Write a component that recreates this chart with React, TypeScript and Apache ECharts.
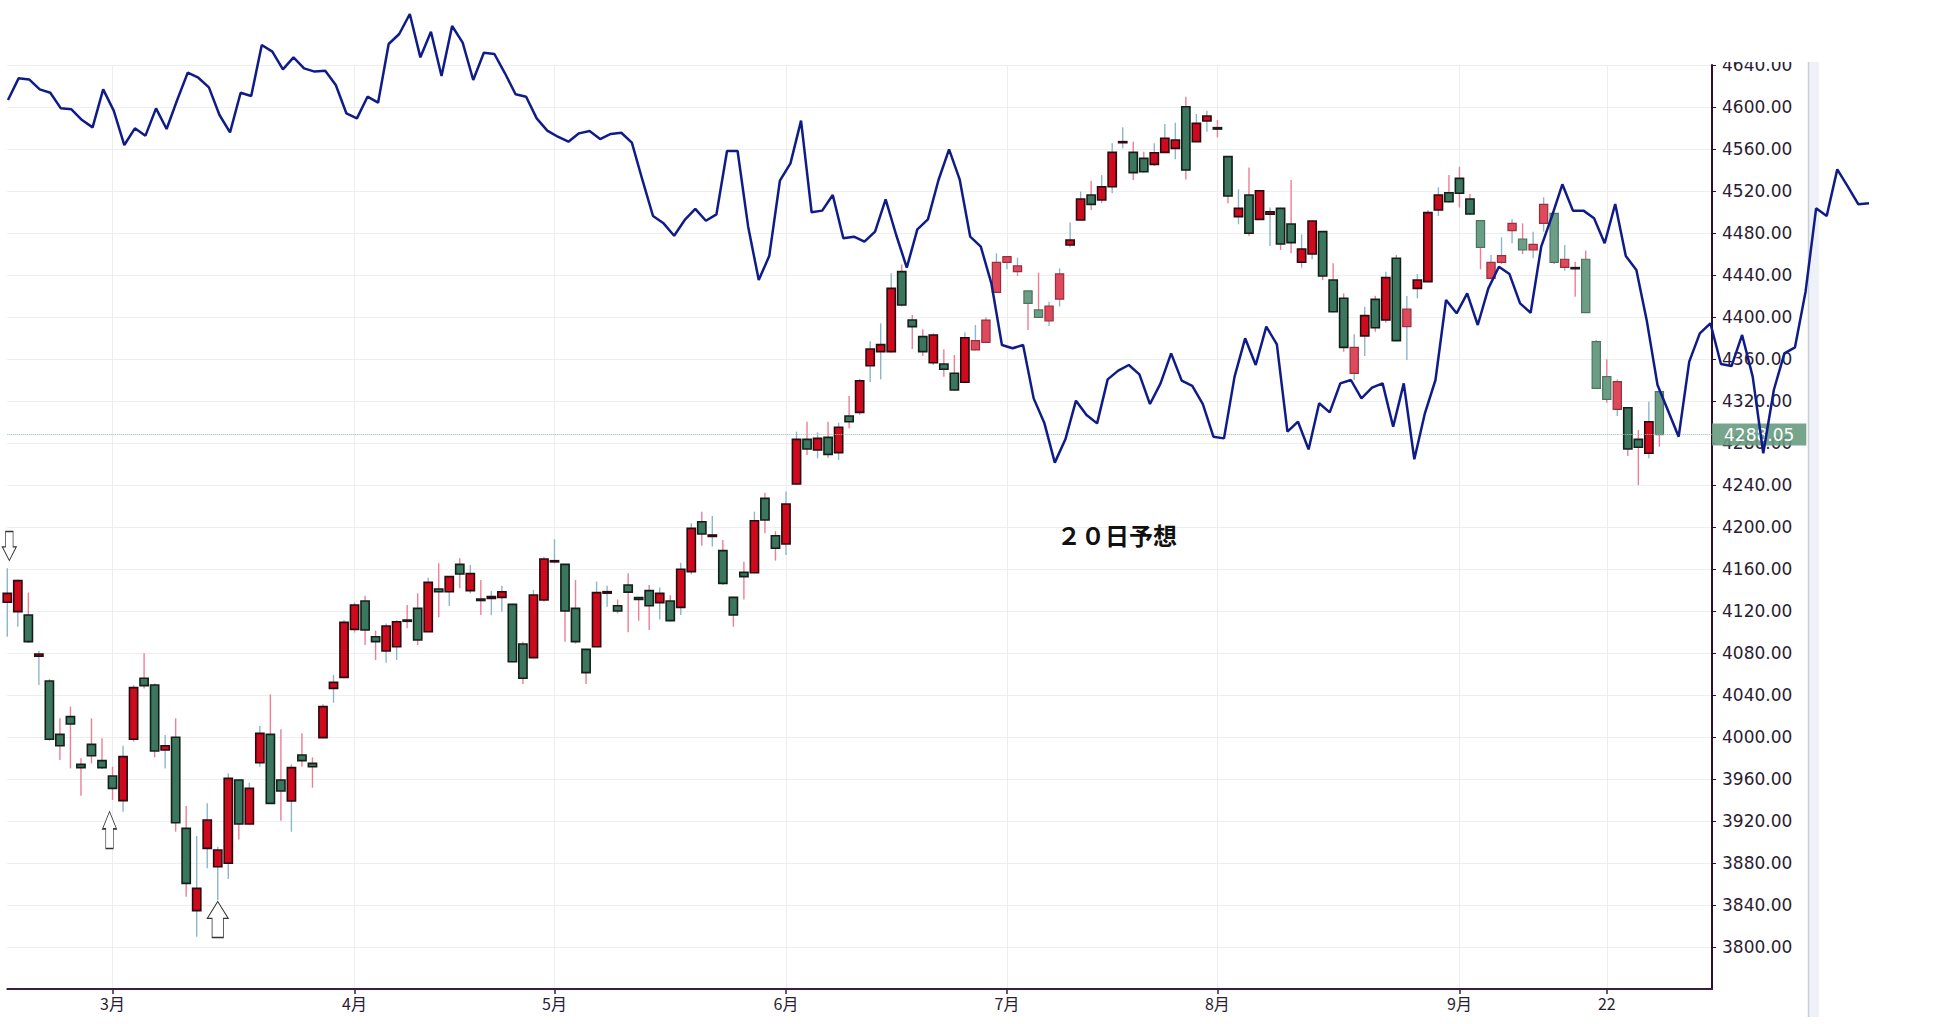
import React, { useEffect, useRef } from "react";
import * as echarts from "echarts";

// ---- categories (trading days, 2023) ----
const dates = [
  "02-14","02-15","02-16","02-17","02-21","02-22","02-23","02-24","02-27","02-28",
  "03-01","03-02","03-03","03-06","03-07","03-08","03-09","03-10","03-13","03-14","03-15","03-16","03-17","03-20","03-21","03-22","03-23","03-24","03-27","03-28","03-29","03-30","03-31",
  "04-03","04-04","04-05","04-06","04-10","04-11","04-12","04-13","04-14","04-17","04-18","04-19","04-20","04-21","04-24","04-25","04-26","04-27","04-28",
  "05-01","05-02","05-03","05-04","05-05","05-08","05-09","05-10","05-11","05-12","05-15","05-16","05-17","05-18","05-19","05-22","05-23","05-24","05-25","05-26","05-30","05-31",
  "06-01","06-02","06-05","06-06","06-07","06-08","06-09","06-12","06-13","06-14","06-15","06-16","06-20","06-21","06-22","06-23","06-26","06-27","06-28","06-29","06-30",
  "07-03","07-05","07-06","07-07","07-10","07-11","07-12","07-13","07-14","07-17","07-18","07-19","07-20","07-21","07-24","07-25","07-26","07-27","07-28","07-31",
  "08-01","08-02","08-03","08-04","08-07","08-08","08-09","08-10","08-11","08-14","08-15","08-16","08-17","08-18","08-21","08-22","08-23","08-24","08-25","08-28","08-29","08-30","08-31",
  "09-01","09-05","09-06","09-07","09-08","09-11","09-12","09-13","09-14","09-15","09-18","09-19","09-20","09-21","09-22","09-25","09-26","09-27","09-28","09-29",
];
const emptySlots = ["10-02", "10-03", "10-04", "10-05", "10-06"];
const forecastDays = [
  "10-02","10-03","10-04","10-05","10-06","10-09","10-10","10-11","10-12","10-13",
  "10-16","10-17","10-18","10-19","10-20","10-23","10-24","10-25","10-26",
];

// ---- OHLC ----
const opens = [
  4128.3,4119.4,4116.2,4077.0,4053.3,4002.5,4019.4,3973.9,3993.0,3977.5,
  3962.8,3939.4,3997.8,4055.9,4049.5,3987.6,3999.7,3913.0,3834.6,3893.9,3876.5,3879.7,3959.0,3917.1,3975.5,4002.5,3959.0,3939.0,3982.9,3974.9,3999.4,4046.3,4056.8,
  4102.5,4129.5,4095.5,4081.9,4086.0,4111.4,4122.5,4100.3,4141.0,4138.4,4164.4,4139.4,4131.4,4132.0,4133.0,4126.3,4088.6,4075.6,4130.5,
  4166.8,4164.4,4122.5,4083.5,4086.0,4137.0,4125.0,4144.8,4132.7,4139.4,4128.0,4129.5,4123.5,4157.5,4205.0,4191.0,4177.5,4133.0,4156.8,4156.5,4227.3,4191.7,
  4183.8,4241.0,4283.5,4273.3,4285.4,4270.8,4305.7,4309.2,4353.6,4367.0,4367.0,4443.2,4397.1,4381.3,4356.5,4355.2,4346.4,4337.8,4368.6,4375.9,4423.5,
  4452.1,4443.2,4424.8,4406.7,4396.2,4417.1,4468.6,4492.4,4516.2,4511.4,4524.1,4566.0,4556.8,4551.1,4545.4,4556.8,4560.6,4600.3,4567.0,4586.7,
  4580.3,4552.7,4495.6,4516.2,4493.0,4498.0,4503.5,4488.6,4452.1,4460.0,4481.3,4435.2,4417.8,4346.4,4382.0,4416.8,4397.1,4455.9,4390.8,4427.3,4433.7,4501.9,4518.4,
  4532.0,4512.4,4491.7,4436.8,4452.0,4482.2,4474.3,4463.8,4489.2,4498.7,4447.3,4447.0,4455.0,4376.5,4343.2,4312.0,4313.6,4283.5,4270.2,4328.9,
];
const highs = [
  4160.6,4150.0,4137.5,4082.0,4055.0,4017.8,4028.9,3979.7,4017.8,3998.7,
  3971.7,3991.7,4049.5,4079.7,4051.0,4001.9,4017.8,3934.3,3905.7,3936.8,3895.5,3965.4,3959.5,3956.5,4010.5,4040.6,4007.3,3974.0,4003.5,3980.6,4031.1,4059.0,4111.4,
  4128.2,4134.6,4101.3,4108.2,4111.4,4125.7,4136.8,4151.7,4165.4,4153.0,4170.2,4163.8,4149.5,4139.0,4144.1,4126.8,4090.8,4140.0,4171.7,
  4188.3,4164.8,4149.5,4083.8,4148.0,4144.0,4131.0,4155.9,4133.0,4144.8,4142.5,4135.0,4166.0,4203.5,4214.6,4210.5,4187.6,4133.5,4167.0,4214.6,4232.7,4196.0,
  4233.7,4290.8,4300.3,4290.2,4300.3,4299.4,4324.8,4341.0,4377.0,4394.0,4441.6,4450.0,4401.9,4388.3,4384.4,4369.2,4363.8,4385.4,4392.4,4399.7,4460.6,
  4458.0,4456.5,4425.0,4442.2,4414.6,4446.3,4490.2,4519.4,4529.8,4535.2,4565.4,4580.6,4567.0,4557.5,4565.4,4583.8,4585.0,4609.8,4593.3,4596.5,
  4587.6,4553.0,4521.6,4542.5,4521.0,4504.4,4504.0,4530.5,4478.7,4492.0,4481.5,4451.1,4422.5,4383.5,4409.8,4420.3,4443.2,4459.0,4420.0,4441.0,4502.0,4523.5,4535.2,
  4543.0,4517.1,4492.0,4459.0,4475.9,4493.0,4489.2,4481.3,4514.0,4499.0,4468.6,4452.7,4463.2,4378.1,4359.7,4340.6,4314.0,4292.4,4319.4,4332.0,
];
const lows = [
  4095.5,4105.0,4089.5,4049.5,3996.5,3978.0,3970.1,3944.1,3974.9,3969.5,
  3940.0,3928.9,3995.5,4046.3,3980.6,3970.1,3909.8,3847.9,3809.8,3874.9,3844.7,3864.7,3902.5,3916.5,3971.7,3936.5,3920.3,3909.8,3971.7,3951.7,3998.7,4032.7,4056.0,
  4099.4,4087.6,4073.3,4070.8,4073.3,4103.5,4087.6,4100.0,4114.0,4124.8,4141.6,4136.8,4116.2,4116.0,4119.4,4071.0,4050.5,4074.9,4128.9,
  4165.4,4090.8,4089.0,4050.5,4085.5,4124.0,4117.8,4099.7,4110.8,4101.9,4112.0,4110.0,4116.2,4155.0,4182.2,4181.3,4144.8,4105.0,4131.0,4156.0,4194.0,4168.0,
  4173.3,4240.5,4268.6,4265.4,4266.0,4263.8,4294.0,4306.7,4338.0,4340.6,4366.0,4409.9,4369.5,4362.9,4354.3,4343.2,4330.0,4337.0,4368.0,4375.0,4423.0,
  4445.4,4439.0,4387.6,4399.5,4391.4,4410.0,4466.4,4492.0,4501.9,4508.3,4517.8,4560.6,4530.5,4537.5,4543.8,4555.9,4550.2,4531.0,4566.5,4576.5,
  4571.1,4508.3,4488.3,4477.1,4492.5,4467.6,4463.8,4460.6,4447.0,4455.0,4435.2,4404.5,4367.0,4340.0,4362.9,4386.0,4394.6,4377.0,4359.0,4417.8,4433.0,4496.2,4509.0,
  4504.4,4497.5,4445.4,4436.0,4450.5,4470.2,4460.0,4455.9,4481.3,4450.5,4444.1,4419.4,4404.0,4331.5,4318.4,4305.7,4267.6,4240.0,4265.4,4276.5,
];
const closes = [
  4136.8,4148.9,4090.8,4079.0,3997.8,3991.7,4012.4,3970.8,3982.2,3970.8,
  3951.1,3981.3,4047.0,4048.9,3986.7,3991.7,3918.4,3860.6,3855.8,3920.9,3892.4,3960.6,3917.1,3951.1,4003.5,3936.8,3948.6,3970.8,3977.5,3971.7,4028.9,4052.0,4109.2,
  4125.7,4101.9,4090.8,4105.7,4109.8,4110.2,4092.4,4147.3,4138.4,4152.7,4155.2,4155.6,4130.0,4133.7,4138.4,4071.7,4055.9,4135.2,4169.5,
  4167.9,4120.0,4090.8,4061.3,4137.5,4138.4,4120.0,4138.0,4131.0,4125.0,4136.8,4110.8,4159.7,4198.7,4193.3,4192.4,4146.3,4116.2,4152.7,4206.0,4206.7,4179.7,
  4221.9,4283.5,4274.3,4284.4,4269.2,4295.0,4300.3,4339.3,4369.5,4373.7,4427.3,4411.4,4390.8,4367.0,4382.9,4350.2,4330.5,4380.3,4377.5,4397.1,4452.0,
  4457.5,4448.6,4413.0,4399.7,4410.5,4441.0,4473.3,4512.4,4507.3,4524.1,4556.8,4567.0,4537.5,4538.4,4556.5,4570.2,4568.6,4540.0,4584.4,4591.4,
  4579.0,4515.2,4503.5,4479.7,4520.3,4500.3,4469.5,4470.8,4464.8,4491.4,4439.1,4405.0,4371.1,4371.1,4401.3,4389.8,4437.5,4377.5,4407.6,4435.2,4499.4,4516.2,4509.8,
  4517.8,4498.1,4466.3,4452.1,4458.4,4489.2,4463.8,4469.2,4507.3,4452.1,4455.0,4446.0,4404.1,4332.0,4321.6,4338.4,4274.3,4275.9,4300.3,4288.05,
];

// ---- 20-day forecast line ----
const forecast = [
  4606.7,4627.3,4626.3,4616.8,4613.6,4598.7,4597.8,4587.6,4580.6,4616.8,
  4596.5,4563.8,4579.7,4572.7,4598.7,4579.0,4606.7,4632.7,4627.9,4618.7,
  4592.4,4575.9,4613.6,4610.5,4659.0,4652.7,4635.9,4647.3,4636.8,4633.7,
  4634.6,4620.9,4594.0,4589.2,4609.8,4604.1,4660.0,4669.5,4688.6,4647.3,
  4671.7,4629.5,4677.1,4661.3,4625.7,4651.7,4650.5,4632.1,4612.1,4609.8,
  4589.2,4577.5,4571.7,4567.0,4574.9,4577.1,4569.5,4574.3,4575.5,4566.0,
  4530.5,4496.2,4489.2,4477.4,4492.4,4502.9,4491.7,4497.8,4558.1,4558.1,
  4486.0,4435.2,4458.4,4529.8,4546.3,4587.0,4499.7,4501.3,4516.2,4475.0,
  4476.5,4471.7,4481.3,4512.1,4478.1,4447.0,4483.5,4493.0,4530.5,4559.7,
  4531.1,4476.5,4467.0,4432.1,4373.3,4370.2,4373.3,4322.5,4299.4,4261.3,
  4283.5,4320.3,4306.7,4298.7,4340.6,4348.9,4354.3,4345.4,4317.1,4336.8,
  4365.4,4339.4,4334.3,4317.1,4286.0,4284.4,4343.2,4379.7,4354.3,4390.8,
  4374.0,4290.8,4300.3,4273.9,4317.8,4309.2,4336.8,4340.0,4322.5,4332.7,
  4336.8,4295.5,4336.8,4264.5,4308.3,4340.0,4416.2,4403.5,4422.5,4392.4,
  4427.3,4447.9,4440.9,4413.0,4404.1,4467.0,4495.6,4526.4,4501.3,4501.3,
  4494.0,4470.2,4507.6,4458.1,4444.8,4395.6,4335.2,4310.8,4286.0,4357.5,
  4384.4,4394.0,4355.2,4353.3,4382.9,4343.2,4270.2,4330.5,4365.4,4371.1,
  4424.1,4503.5,4496.2,4540.6,4524.1,4507.3,4508.3,
];

// ---- tick labels ----
const tickLabels: Record<string, string> = {
  "03-01": "3月", "04-03": "4月", "05-01": "5月", "06-01": "6月",
  "07-03": "7月", "08-01": "8月", "09-01": "9月", "09-22": "22",
};
const lastPrice = 4288.05;
const annotationText = "２０日予想";
// arrows (date, price at arrow centre)
const arrowDates = ["02-14", "03-01", "03-15"];
const arrowPrices = [4181.9, 3911.4, 3826.2];
// candles captured in a lighter tone
const lightCandles = [
  "06-28","06-29","06-30","07-03","07-05","07-06","07-07","07-10","07-11",
  "08-18","08-25","09-06","09-07","09-08","09-11","09-12","09-13","09-14",
  "09-15","09-18","09-20","09-21","09-22","09-25","09-29",
];

const ARROW = "path://M50,0L100,47L77,47L77,100L23,100L23,47L0,47Z";

export default function App() {
  const ref = useRef<HTMLDivElement>(null);
  useEffect(() => {
    document.body.style.margin = "0";
    const chart = echarts.init(ref.current!, null, { renderer: "svg" });
    const lightSet = new Set(lightCandles);
    const candleData = dates.map((d, i) => [i, opens[i], closes[i], lows[i], highs[i], lightSet.has(d) ? 1 : 0]);
    const isTick = (_: number, v: string) => v in tickLabels;

    const renderCandle = (params: any, api: any) => {
      const i = api.value(0);
      const o = api.value(1), c = api.value(2), l = api.value(3), h = api.value(4);
      const light = api.value(5) === 1;
      const bw = api.size([1, 0])[0] * 0.78;
      const po = api.coord([i, o]);
      const pc = api.coord([i, c]);
      const pl = api.coord([i, l]);
      const ph = api.coord([i, h]);
      const x = po[0];
      const up = c >= o;
      const top = Math.min(po[1], pc[1]);
      const bh = Math.max(Math.abs(po[1] - pc[1]), 1);
      let fill, stroke, lw;
      if (light) {
        fill = up ? "#dd4a5c" : "#6c9d85";
        stroke = up ? "#9c2d3c" : "#4b7563";
        lw = 1.2;
      } else {
        fill = up ? "#cf0a1c" : "#3b775e";
        stroke = up ? "#2b0b10" : "#13201a";
        lw = 1.6;
      }
      return {
        type: "group",
        children: [
          {
            type: "line",
            shape: { x1: x, y1: ph[1], x2: x, y2: pl[1] },
            style: { stroke: up ? "#8cb6cd" : "#f07d96", lineWidth: 1.4 },
          },
          {
            type: "rect",
            shape: { x: x - bw / 2, y: top, width: bw, height: bh },
            style: { fill, stroke, lineWidth: lw },
          },
        ],
      };
    };

    const labelColor = "#2a1c33";
    chart.setOption({
      animation: false,
      textStyle: { fontFamily: "DejaVu Sans" },
      grid: [
        { left: 7.3, top: 65, width: 1704.7, height: 924, outerBoundsMode: "none" },
        { left: 8, top: 0, width: 1861, height: 1024, outerBoundsMode: "none" },
      ],
      xAxis: [
        {
          type: "category",
          gridIndex: 0,
          data: [...dates, ...emptySlots],
          boundaryGap: false,
          axisLine: { show: true, lineStyle: { color: "#3a1f40", width: 2 } },
          axisTick: { show: true, interval: isTick, length: 5, lineStyle: { color: "#3a1f40", width: 1.5 } },
          axisLabel: {
            interval: isTick,
            formatter: (v: string) => tickLabels[v] || "",
            color: labelColor,
            fontSize: 16,
            fontFamily: "Noto Sans CJK JP",
            margin: 6,
          },
          splitLine: { show: true, interval: isTick, lineStyle: { color: "#eeeeee", width: 1 } },
        },
        {
          type: "category",
          gridIndex: 1,
          data: [...dates, ...forecastDays],
          boundaryGap: false,
          show: false,
        },
      ],
      yAxis: [
        {
          type: "value",
          gridIndex: 0,
          position: "right",
          min: 3760,
          max: 4640,
          interval: 40,
          axisLine: { show: true, lineStyle: { color: "#2d0f33", width: 2 } },
          axisTick: { show: true, length: 4, lineStyle: { color: "#2d0f33" } },
          axisLabel: {
            formatter: (v: number) => v.toFixed(2),
            color: labelColor,
            fontSize: 17,
            fontFamily: "DejaVu Sans",
            margin: 10,
            showMinLabel: false,
          },
          splitLine: { show: true, lineStyle: { color: "#eeeeee", width: 1 } },
        },
        {
          type: "value",
          gridIndex: 1,
          min: 3726.667,
          max: 4701.905,
          show: false,
          splitLine: { show: false },
        },
      ],
      series: [
        {
          type: "custom",
          name: "S&P500",
          xAxisIndex: 0,
          yAxisIndex: 0,
          renderItem: renderCandle,
          encode: { x: 0, y: [1, 2, 3, 4] },
          data: candleData,
          z: 3,
          markLine: {
            silent: true,
            symbol: ["none", "none"],
            lineStyle: { type: "dotted", color: "#95c0ae", width: 1 },
            label: {
              show: true,
              position: "end",
              distance: 0,
              formatter: () => lastPrice.toFixed(2),
              color: "#ffffff",
              fontSize: 17,
              lineHeight: 16,
              fontFamily: "DejaVu Sans",
              backgroundColor: "rgba(104,154,128,0.9)",
              padding: [3, 12, 3, 12],
            },
            data: [{ yAxis: lastPrice }],
          },
          markPoint: {
            silent: true,
            symbol: ARROW,
            symbolKeepAspect: false,
            itemStyle: { color: "#ffffff", borderColor: "#333333", borderWidth: 1 },
            label: { show: false },
            data: [
              { coord: [arrowDates[0], arrowPrices[0]], symbolSize: [14, 29], symbolRotate: 180, symbolOffset: [2, 0] },
              { coord: [arrowDates[1], arrowPrices[1]], symbolSize: [14, 37], symbolOffset: [-3, 0] },
              { coord: [arrowDates[2], arrowPrices[2]], symbolSize: [21, 36] },
            ],
          },
        },
        {
          type: "line",
          name: "20日予想",
          xAxisIndex: 1,
          yAxisIndex: 1,
          data: forecast,
          symbol: "none",
          clip: false,
          z: 60,
          lineStyle: { color: "#0f1c88", width: 2.5 },
        },
      ],
      graphic: [
        {
          type: "rect",
          z: 1,
          shape: { x: 1808, y: 62, width: 11, height: 955 },
          style: { fill: "#eef1f7" },
        },
        {
          type: "line",
          z: 1,
          shape: { x1: 1808.5, y1: 62, x2: 1808.5, y2: 1017 },
          style: { stroke: "#c9cdd8", lineWidth: 1.5 },
        },
        {
          type: "rect",
          z: 50,
          shape: { x: 1714, y: 0, width: 93, height: 62 },
          style: { fill: "#ffffff" },
        },
        {
          type: "text",
          z: 50,
          x: 1117,
          y: 534,
          style: {
            text: annotationText,
            fontSize: 24,
            fontWeight: "bold",
            fontFamily: "Noto Sans CJK JP",
            fill: "#111111",
            align: "center",
            verticalAlign: "middle",
          },
        },
      ],
    });
    return () => chart.dispose();
  }, []);
  return (
    <div
      ref={ref}
      style={{ position: "fixed", left: 0, top: 0, width: 1952, height: 1024, background: "#ffffff" }}
    />
  );
}
